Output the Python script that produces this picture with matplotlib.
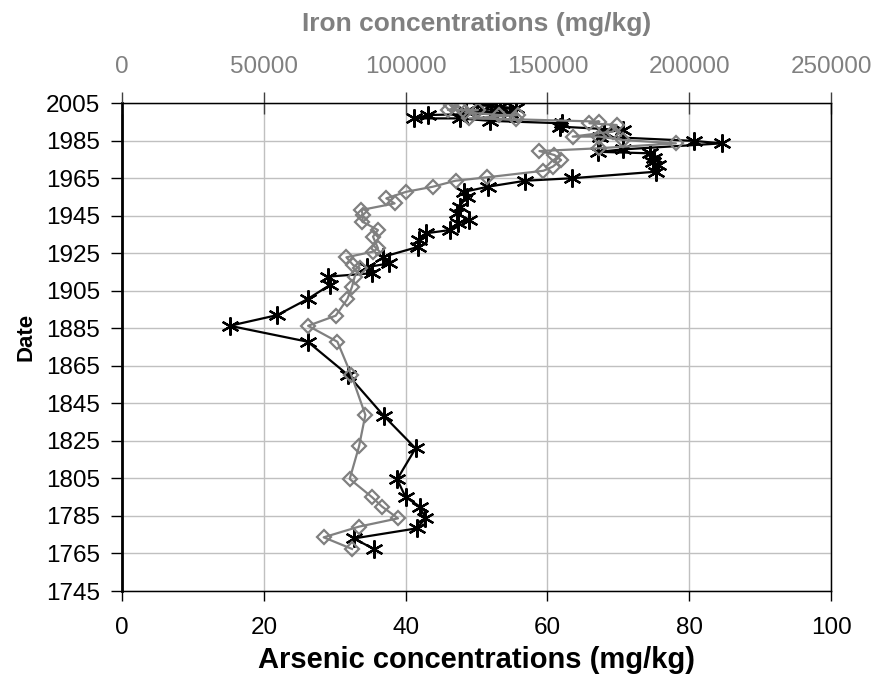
import matplotlib
matplotlib.use("Agg")
import matplotlib.pyplot as plt

plt.rcParams['font.family'] = ['Liberation Sans', 'DejaVu Sans']

# arsenic profile (date, mg/kg), newest first
as_year = [2004.2, 2003.9, 2003.0, 2002.2, 2001.0, 1999.5, 1998.6, 1996.8, 1996.8, 1995.5,
           1994.2, 1992.4, 1990.6, 1989.5, 1987.1, 1984.8, 1983.5, 1980.3, 1979.0, 1978.2,
           1975.5, 1973.8, 1972.0, 1968.4, 1964.9, 1963.6, 1960.4, 1957.7, 1955.0, 1949.8,
           1946.2, 1942.7, 1940.9, 1937.3, 1935.6, 1932.0, 1928.4, 1923.0, 1919.6, 1917.5,
           1914.3, 1912.5, 1908.0, 1900.6, 1892.0, 1886.3, 1877.8, 1860.0, 1838.4, 1821.0,
           1804.5, 1795.0, 1790.0, 1783.7, 1778.4, 1773.0, 1767.4]
arsenic = [52.0, 50.0, 53.3, 55.6, 48.5, 54.7, 43.2, 41.2, 47.6, 51.9,
           62.0, 61.8, 70.7, 68.0, 67.4, 80.7, 84.6, 70.7, 67.2, 74.4,
           75.1, 74.9, 75.6, 75.3, 63.4, 56.9, 51.6, 48.3, 48.6, 47.6,
           47.2, 49.0, 47.4, 46.2, 42.9, 41.9, 41.8, 36.8, 37.7, 34.5,
           35.2, 29.1, 29.3, 26.2, 21.9, 15.2, 26.2, 31.9, 36.9, 41.4,
           38.8, 40.0, 42.0, 42.8, 41.6, 32.7, 35.5]

# iron profile (date, mg/kg), newest first
fe_year = [2004.0, 2003.0, 2001.3, 2001.3, 2000.0, 1998.6, 1998.6, 1996.8, 1996.3, 1995.1,
           1994.2, 1993.3, 1989.8, 1987.1, 1987.1, 1985.3, 1983.5, 1980.9, 1979.4, 1977.3,
           1974.6, 1971.1, 1968.9, 1965.4, 1963.6, 1960.4, 1957.7, 1954.2, 1951.5, 1948.0,
           1945.3, 1941.8, 1937.3, 1933.8, 1927.6, 1925.8, 1922.8, 1918.7, 1917.0, 1912.5,
           1907.1, 1900.6, 1891.7, 1886.3, 1877.8, 1860.0, 1838.8, 1822.0, 1804.7, 1795.0,
           1790.0, 1783.7, 1779.3, 1773.6, 1767.4]
iron = [116100, 119000, 114900, 125500, 121000, 133100, 139500, 122500, 138970, 168300,
        164800, 174400, 173000, 158900, 168300, 176500, 195300, 168300, 147180, 152460,
        154820, 151870, 148590, 128630, 117600, 109610, 100230, 93190, 96120, 84390,
        84960, 84740, 90250, 88490, 90250, 88490, 79120, 81450, 83800, 82040,
        81100, 79470, 75350, 65600, 75940, 80870, 85800, 83560, 80280, 88140,
        91660, 97300, 83560, 71100, 81100]

year_ticks = list(range(1745, 2006, 20))
as_ticks = [0, 20, 40, 60, 80, 100]
fe_ticks = [0, 50000, 100000, 150000, 200000, 250000]

GRAY = '#808080'
FS = 17.5

fig = plt.figure(figsize=(8.85, 6.79), dpi=100)
ax = fig.add_axes([0.1379, 0.1296, 0.8011, 0.7187])

ax.set_xlim(0, 100)
ax.set_ylim(1745, 2005)
ax.set_xticks(as_ticks)
ax.set_yticks(year_ticks)
ax.grid(True, color='#c0c0c0', linewidth=1)
ax.set_axisbelow(True)
ax.tick_params(axis='y', direction='out', length=8, width=1, pad=8, labelsize=FS)
ax.tick_params(axis='x', direction='out', length=7, width=1, pad=12, labelsize=FS)
ax.spines['left'].set_linewidth(2)
for s in ['bottom', 'top', 'right']:
    ax.spines[s].set_linewidth(1)
ax.set_ylabel('Date', fontsize=16, fontweight='bold')
ax.yaxis.set_label_coords(-0.12, 0.52)
ax.set_xlabel('Arsenic concentrations (mg/kg)', fontsize=21, fontweight='bold', labelpad=5)

ax.plot(arsenic, as_year, color='black', linewidth=1.6, marker=(6, 2, 0),
        markersize=13, markeredgewidth=1.6, zorder=3)

ax2 = ax.twiny()
ax2.set_xlim(0, 250000)
ax2.set_xticks(fe_ticks)
ax2.tick_params(axis='x', direction='inout', length=16, width=1, color='#404040',
                pad=10, labelsize=FS, labelcolor=GRAY)
ax2.set_xlabel('Iron concentrations (mg/kg)', fontsize=19, fontweight='bold',
               color=GRAY, labelpad=18)
ax2.plot(iron, fe_year, color=GRAY, linewidth=1.6, marker='D', markersize=7.5,
         markerfacecolor='none', markeredgecolor=GRAY, markeredgewidth=1.6)

fig.savefig('out.png', dpi=100)
